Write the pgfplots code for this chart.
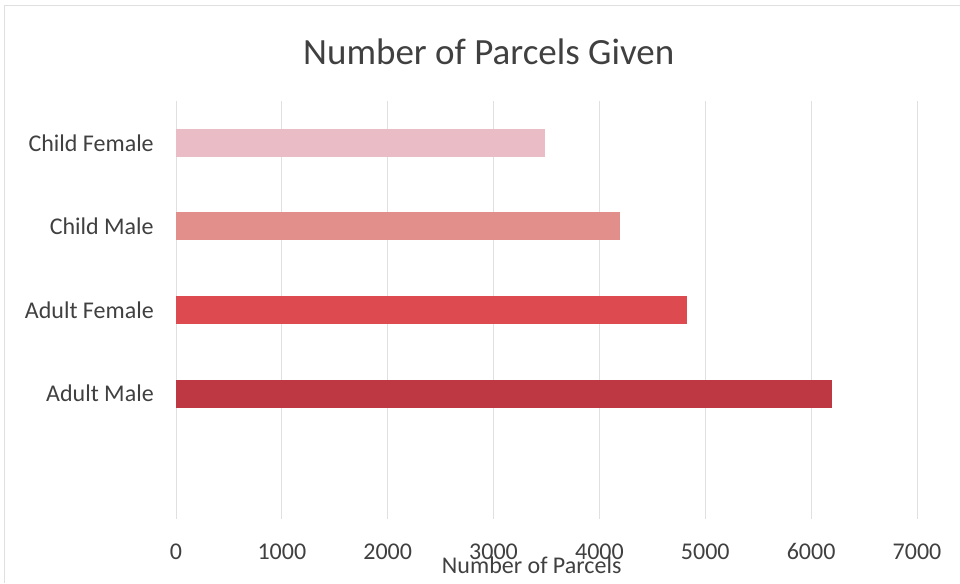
\documentclass[border=0pt]{standalone}
\usepackage{pgfplots}
\pgfplotsset{compat=1.18}
\usepackage{fontspec}
\setmainfont{Carlito}
\definecolor{txt}{HTML}{404040}
\definecolor{cf}{HTML}{E9BCC6}
\definecolor{cm}{HTML}{E28F8C}
\definecolor{af}{HTML}{DD4A4F}
\definecolor{am}{HTML}{BE3843}
\definecolor{gridc}{HTML}{E0E0E0}
\begin{document}
\begin{tikzpicture}
\path[use as bounding box] (0,0) rectangle (720pt,437.25pt);
\draw[gray!25, line width=0.6pt] (3.5pt,0) -- (3.5pt,433.5pt) -- (720pt,433.5pt);
\begin{axis}[
  at={(132pt,48pt)}, anchor=south west,
  scale only axis, width=555.75pt, height=313.5pt,
  xmin=0, xmax=7000, ymin=-0.5, ymax=4.5,
  xbar, bar shift=0pt, bar width=0.335,
  axis line style={draw=none},
  major tick length=0pt,
  xtick={0,1000,...,7000},
  ytick={1,2,3,4},
  yticklabels={Adult Male, Adult Female, Child Male, Child Female},
  xmajorgrids, grid style={gridc, line width=0.6pt},
  /pgf/number format/1000 sep={},
  /pgf/number format/assume math mode=true,
  tick label style={font=\fontsize{18pt}{21pt}\selectfont, text=txt},
  xticklabel style={anchor=base, yshift=-30.4pt},
  yticklabel style={anchor=east, inner sep=0pt, xshift=-16.5pt},
  clip=false,
]
\addplot[draw=none, fill=cf] coordinates {(3490,4)};
\addplot[draw=none, fill=cm] coordinates {(4190,3)};
\addplot[draw=none, fill=af] coordinates {(4830,2)};
\addplot[draw=none, fill=am] coordinates {(6200,1)};
\node[anchor=base, text=txt, font=\fontsize{18pt}{21pt}\selectfont]
  at ([yshift=-40.5pt]axis description cs:0.48,0) {Number of Parcels};
\node[anchor=base, text=txt, font=\fontsize{27.75pt}{32pt}\selectfont]
  at ([yshift=27.75pt]axis description cs:0.422,1) {Number of Parcels Given};
\end{axis}
\end{tikzpicture}
\end{document}
